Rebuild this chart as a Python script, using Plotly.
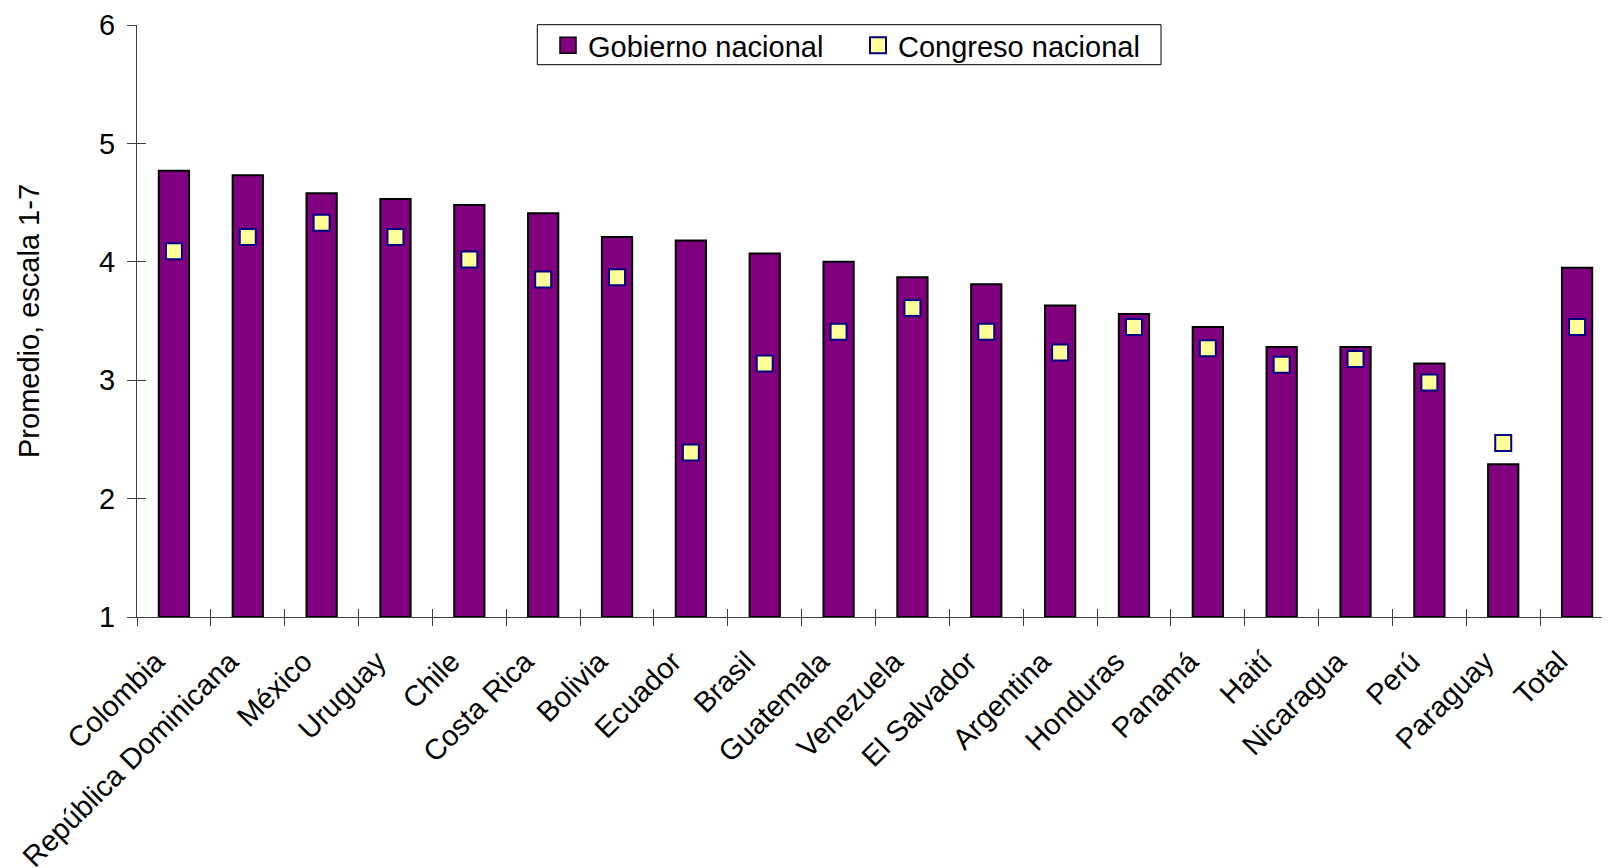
import plotly.graph_objects as go

countries = ["Colombia", "República Dominicana", "México", "Uruguay", "Chile", "Costa Rica",
             "Bolivia", "Ecuador", "Brasil", "Guatemala", "Venezuela", "El Salvador",
             "Argentina", "Honduras", "Panamá", "Haití", "Nicaragua", "Perú", "Paraguay", "Total"]
gobierno = [4.77, 4.73, 4.58, 4.53, 4.48, 4.41, 4.21, 4.18, 4.07, 4.00, 3.87, 3.81,
            3.63, 3.56, 3.45, 3.28, 3.28, 3.14, 2.29, 3.95]
congreso = [4.09, 4.21, 4.33, 4.21, 4.02, 3.85, 3.87, 2.39, 3.14, 3.41, 3.61, 3.41,
            3.235, 3.45, 3.27, 3.13, 3.18, 2.98, 2.47, 3.45]
y_ticks = [1, 2, 3, 4, 5, 6]

FONT = "Liberation Sans, Arial, sans-serif"
FS = 29
AX = "#404040"
PURPLE = "#800080"
YELLOW = "#FFFF99"
NAVY = "#000080"

# page body has an 8px margin, so the figure is placed 8px right/down in the window
L, T, B = 129, 17, 259
W, H = 1610, 868
PW, PH = W - L, H - T - B
xr = [-0.5, -0.5 + PW / 73.85]


def px(xw):  # window x -> paper x
    return (xw - 8 - L) / PW


def py(yw):  # window y -> paper y
    return (H - B - (yw - 8)) / PH


fig = go.Figure()
fig.add_trace(go.Bar(
    x=countries, y=[v - 1 for v in gobierno], base=1, name="Gobierno nacional",
    marker=dict(color=PURPLE, line=dict(color="black", width=2)), showlegend=False,
))
fig.add_trace(go.Scatter(
    x=countries, y=congreso, name="Congreso nacional", mode="markers",
    marker=dict(symbol="square", size=16, color=YELLOW, line=dict(color=NAVY, width=2)),
    showlegend=False,
))
# legend entries (legend-only proxies, draw nothing in the plot)
fig.add_trace(go.Scatter(
    x=[None], y=[None], name="Gobierno nacional", mode="markers",
    marker=dict(symbol="square", size=18, color=PURPLE, line=dict(color="black", width=1.5)),
))
fig.add_trace(go.Scatter(
    x=[None], y=[None], name="Congreso nacional", mode="markers",
    marker=dict(symbol="square", size=18, color=YELLOW, line=dict(color=NAVY, width=2)),
))
# invisible helper trace to activate the secondary axes used for crossing ticks
fig.add_trace(go.Scatter(x=countries[:1], y=[1], xaxis="x2", yaxis="y2", mode="markers",
                         marker=dict(opacity=0), showlegend=False, hoverinfo="skip"))

fig.update_layout(
    width=W, height=H,
    margin=dict(l=L, r=0, t=T, b=B, autoexpand=False),
    paper_bgcolor="white", plot_bgcolor="white",
    font=dict(family=FONT, size=FS, color="black"),
    bargap=0.59,
    showlegend=True,
    legend=dict(
        orientation="h", x=px(548), y=py(45.5), xanchor="left", yanchor="middle",
        borderwidth=0, bgcolor="rgba(0,0,0,0)",
        font=dict(family=FONT, size=FS), itemwidth=30,
        entrywidth=265, entrywidthmode="pixels",
    ),
    shapes=[dict(type="rect", xref="paper", yref="paper",
                 x0=px(537.3), x1=px(1161), y0=py(64.7), y1=py(24.7),
                 line=dict(color="black", width=1), fillcolor="white", layer="below")],
    xaxis=dict(
        type="category", range=xr, showline=True, linecolor=AX, linewidth=1,
        ticks="outside", ticklen=8, tickcolor=AX, tickson="boundaries",
        tickangle=-45, showgrid=False, zeroline=False,
        ticklabelstandoff=15, ticklabelshift=-18,
        tickfont=dict(family=FONT, size=FS),
    ),
    xaxis2=dict(
        type="category", range=xr, overlaying="x", matches="x", ticks="inside", ticklen=8,
        tickcolor=AX, tickson="boundaries", showticklabels=False,
        showgrid=False, zeroline=False, showline=False, side="bottom",
    ),
    yaxis=dict(
        range=[1, 6], tickvals=y_ticks, showline=True, linecolor=AX, linewidth=1,
        ticks="outside", ticklen=9, tickcolor=AX, showgrid=False, zeroline=False,
        ticklabelstandoff=6, tickfont=dict(family=FONT, size=FS),
        title=dict(text="Promedio, escala 1-7", font=dict(family=FONT, size=FS), standoff=50),
    ),
    yaxis2=dict(
        range=[1, 6], tickvals=y_ticks, overlaying="y", matches="y", ticks="inside", ticklen=9,
        tickcolor=AX, showticklabels=False, showgrid=False, zeroline=False, showline=False,
    ),
)

fig.write_html("out.html")
